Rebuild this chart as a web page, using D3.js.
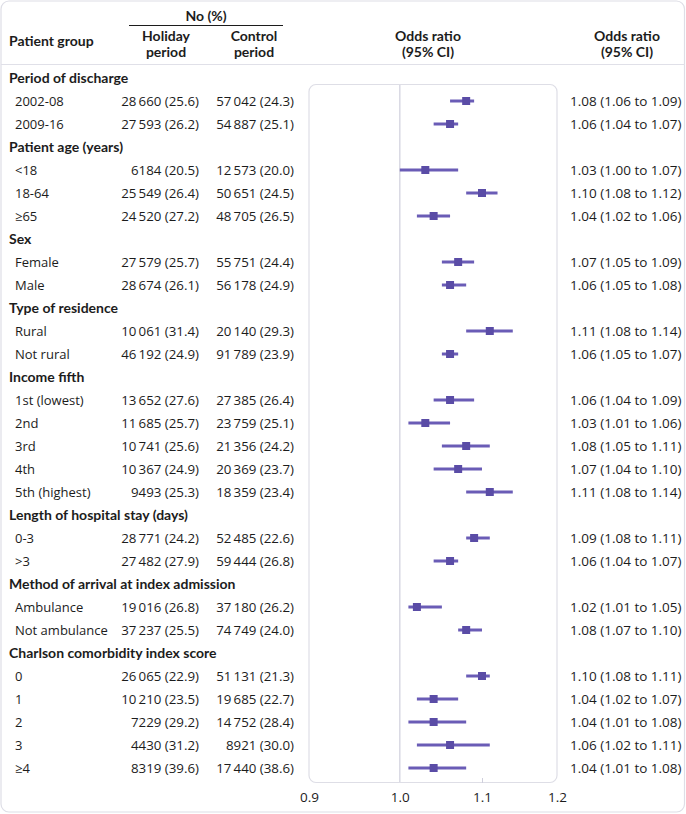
<!DOCTYPE html>
<html><head><meta charset="utf-8">
<script src="https://cdn.jsdelivr.net/npm/d3@7"></script>
<style>
html,body{margin:0;padding:0;background:#fff;}
text{font-family:"Open Sans","Noto Sans",sans-serif;fill:#1c1c1c;}
.b{font-family:Lato,"Open Sans",sans-serif;font-weight:bold;font-size:14px;}
</style></head>
<body><svg id="chart" width="686" height="814"></svg>
<script>
// ---- DATA ----
const sections = ["Period of discharge","Patient age (years)","Sex","Type of residence","Income fifth","Length of hospital stay (days)","Method of arrival at index admission","Charlson comorbidity index score"];
const sectionOf = [0,0,1,1,1,2,2,3,3,4,4,4,4,4,5,5,6,6,7,7,7,7,7];
const groups = ["2002-08","2009-16","<18","18-64","\u226565","Female","Male","Rural","Not rural","1st (lowest)","2nd","3rd","4th","5th (highest)","0-3",">3","Ambulance","Not ambulance","0","1","2","3","\u22654"];
const holidayN = [28660,27593,6184,25549,24520,27579,28674,10061,46192,13652,11685,10741,10367,9493,28771,27482,19016,37237,26065,10210,7229,4430,8319];
const holidayPct = [25.6,26.2,20.5,26.4,27.2,25.7,26.1,31.4,24.9,27.6,25.7,25.6,24.9,25.3,24.2,27.9,26.8,25.5,22.9,23.5,29.2,31.2,39.6];
const controlN = [57042,54887,12573,50651,48705,55751,56178,20140,91789,27385,23759,21356,20369,18359,52485,59444,37180,74749,51131,19685,14752,8921,17440];
const controlPct = [24.3,25.1,20.0,24.5,26.5,24.4,24.9,29.3,23.9,26.4,25.1,24.2,23.7,23.4,22.6,26.8,26.2,24.0,21.3,22.7,28.4,30.0,38.6];
const orEst = [1.08,1.06,1.03,1.10,1.04,1.07,1.06,1.11,1.06,1.06,1.03,1.08,1.07,1.11,1.09,1.06,1.02,1.08,1.10,1.04,1.04,1.06,1.04];
const orLow = [1.06,1.04,1.00,1.08,1.02,1.05,1.05,1.08,1.05,1.04,1.01,1.05,1.04,1.08,1.08,1.04,1.01,1.07,1.08,1.02,1.01,1.02,1.01];
const orHigh = [1.09,1.07,1.07,1.12,1.06,1.09,1.08,1.14,1.07,1.09,1.06,1.11,1.10,1.14,1.11,1.07,1.05,1.10,1.11,1.07,1.08,1.11,1.08];
const axisTicks = [0.9,1.0,1.1,1.2];

// ---- LAYOUT ----
const svg = d3.select("#chart");
const W = 686, H = 814;
const fmtN = n => { const s = String(n); return n >= 10000 ? s.slice(0, s.length-3) + "\u2009" + s.slice(-3) : s; };
const fmtP = p => p.toFixed(1);
const fmt2 = v => v.toFixed(2);

// build rows
const rows = [];
let prev = -1;
groups.forEach((g,i) => {
  if (sectionOf[i] !== prev) { rows.push({type:"header", label: sections[sectionOf[i]]}); prev = sectionOf[i]; }
  rows.push({type:"item", i});
});
const y = d3.scalePoint().domain(d3.range(rows.length)).range([78, 768]);
const x = d3.scaleLog().domain([0.9, 1.2]).range([309, 557]);

// outer border
svg.append("rect").attr("x",1).attr("y",1).attr("width",W-2.5).attr("height",H-3).attr("rx",8)
  .attr("fill","none").attr("stroke","#dedee6").attr("stroke-width",1.2);
// header separator
svg.append("line").attr("x1",1).attr("x2",W-1).attr("y1",64.5).attr("y2",64.5).attr("stroke","#e0e0e8").attr("stroke-width",1.2);

// headers
const hdr = svg.append("g");
hdr.append("text").attr("class","b").attr("x",9).attr("y",41).attr("dy","0.35em").text("Patient group");
hdr.append("text").attr("class","b").attr("x",206).attr("y",16).attr("dy","0.35em").attr("text-anchor","middle").text("No (%)");
svg.append("line").attr("x1",129).attr("x2",283).attr("y1",25.5).attr("y2",25.5).attr("stroke","#1c1c1c").attr("stroke-width",1);
[["Holiday","period",166],["Control","period",254],["Odds ratio","(95% CI)",428],["Odds ratio","(95% CI)",627]].forEach(([a,b,cx]) => {
  const t = hdr.append("text").attr("class","b").attr("text-anchor","middle");
  t.append("tspan").attr("x",cx).attr("y",36).attr("dy","0.35em").text(a);
  t.append("tspan").attr("x",cx).attr("y",52).attr("dy","0.35em").text(b);
});

// plot box
svg.append("rect").attr("x",x(0.9)).attr("y",84.5).attr("width",x(1.2)-x(0.9)).attr("height",698)
  .attr("rx",7).attr("fill","none").attr("stroke","#dedee6").attr("stroke-width",1.2);
svg.append("line").attr("x1",x(1.0)).attr("x2",x(1.0)).attr("y1",85).attr("y2",782).attr("stroke","#cfcfdc").attr("stroke-width",1.2);

// axis
const axis = d3.axisBottom(x).tickValues(axisTicks).tickFormat(d3.format(".1f")).tickSize(0).tickPadding(8);
const ax = svg.append("g").attr("transform","translate(0,784)").call(axis);
ax.select(".domain").remove();
ax.selectAll("text").style("font-size","13.5px").style("font-family",'"Open Sans","Noto Sans",sans-serif').attr("fill","#1c1c1c");
ax.selectAll(".tick").filter(d => d===1.1).append("line").attr("y1",-6).attr("y2",-1).attr("stroke","#cfcfdc");

// rows
const g = svg.append("g").style("font-size","13px");
rows.forEach((r,k) => {
  const yy = y(k);
  if (r.type === "header") {
    g.append("text").attr("class","b").attr("x",9).attr("y",yy).attr("dy","0.35em").text(r.label);
  } else {
    const i = r.i;
    g.append("text").attr("x",15).attr("y",yy).attr("dy","0.35em").text(groups[i]);
    g.append("text").attr("x",199).attr("y",yy).attr("dy","0.35em").attr("text-anchor","end").style("font-size","13.3px").text(fmtN(holidayN[i]) + " (" + fmtP(holidayPct[i]) + ")");
    g.append("text").attr("x",294).attr("y",yy).attr("dy","0.35em").attr("text-anchor","end").style("font-size","13.3px").text(fmtN(controlN[i]) + " (" + fmtP(controlPct[i]) + ")");
    g.append("text").attr("x",570).attr("y",yy).attr("dy","0.35em").style("font-size","13.5px").text(fmt2(orEst[i]) + " (" + fmt2(orLow[i]) + " to " + fmt2(orHigh[i]) + ")");
    svg.append("line").attr("x1",x(orLow[i])).attr("x2",x(orHigh[i])).attr("y1",yy).attr("y2",yy)
      .attr("stroke","#6a5cb6").attr("stroke-width",3);
    svg.append("rect").attr("x",x(orEst[i])-4).attr("y",yy-4).attr("width",8).attr("height",8).attr("fill","#5a4ca6");
  }
});
</script></body></html>
